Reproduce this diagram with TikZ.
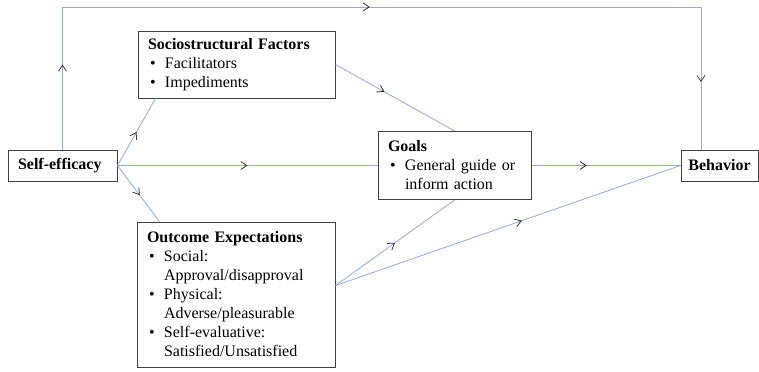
\documentclass[tikz,border=0pt]{standalone}
\usepackage{fontspec}
\setmainfont{Liberation Serif}
\usepackage{tikz}
\usetikzlibrary{arrows.meta,decorations.markings}

\newcommand{\bul}{\makebox[12.75pt][l]{\hspace{1.5pt}\textbullet}}
\newcommand{\gap}{\hphantom{\bul}}

\begin{document}
\begin{tikzpicture}[x=0.75pt,y=-0.75pt,
    box/.style={draw=black!75,line width=0.75pt,align=left,inner xsep=7.5pt,inner ysep=0pt,
        font=\fontsize{12}{14.25}\selectfont},
    link/.style={draw={rgb,255:red,143;green,170;blue,220},line width=0.6pt},
    barb/.tip={Straight Barb[color=black!80,length=4.5pt,width=6pt,line width=0.6pt]},
    midarrow/.style={postaction={decorate},
        decoration={markings,mark=at position #1 with {\arrow{barb}}}},
    looparrows/.style={postaction={decorate},
        decoration={markings,
            mark=at position 0.092 with {\arrow{barb}},
            mark=at position 0.487 with {\arrow{barb}},
            mark=at position 0.927 with {\arrow{barb}}}}]
\useasboundingbox (0,0) rectangle (759,371);

\node[box,text width=66.75pt,minimum height=23.25pt] (self) at (62.5,165.5) {\textbf{Self-efficacy}};
\node[box,text width=132.75pt,minimum height=50.25pt] (socio) at (236.5,64.5)
    {\textbf{Sociostructural Factors}\\ \bul Facilitators\\ \bul Impediments};
\node[box,text width=99.75pt,minimum height=51pt] (goals) at (454.5,165.5)
    {\textbf{Goals}\\ \bul General guide or\\ \gap inform action};
\node[box,text width=133.5pt,minimum height=108.75pt] (outcome) at (236,294.5)
    {\textbf{Outcome Expectations}\\ \bul Social:\\ \gap Approval/disapproval\\
     \bul Physical:\\ \gap Adverse/pleasurable\\ \bul Self-evaluative:\\ \gap Satisfied/Unsatisfied};
\node[box,inner xsep=0pt,minimum width=57.75pt,minimum height=23.25pt] (behav) at (719.5,165.5) {\textbf{Behavior}};

\coordinate (split) at ([yshift=6.75pt]outcome.east);
\coordinate (top) at (701,7);

\draw[link,midarrow=0.5] (self.east) -- (goals.west);
\draw[link,midarrow=0.37] (goals.east) -- (behav.west);
\draw[link,midarrow=0.41] (socio.east) -- (goals.north);
\draw[link,midarrow=0.5] (self.east) -- ([xshift=13.5pt]socio.south west);
\draw[link,midarrow=0.53] (self.east) -- ([xshift=17.25pt]outcome.north west);
\draw[link,midarrow=0.5] (split) -- (goals.south);
\draw[link,midarrow=0.54] (split) -- (behav.west);
\draw[link,looparrows] (self.north) |- (top) -- (top |- behav.north);

\end{tikzpicture}
\end{document}
